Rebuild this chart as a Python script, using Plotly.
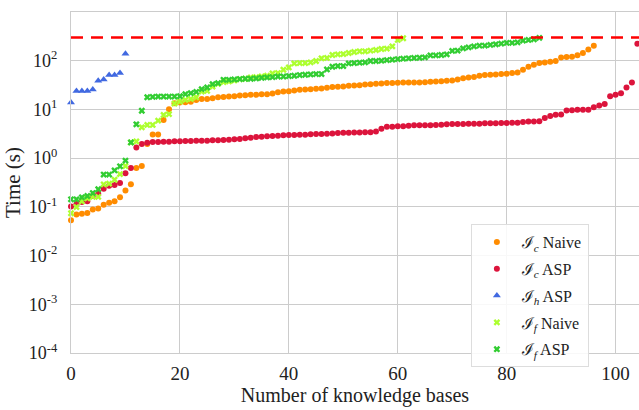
import plotly.graph_objects as go

ic_naive = [0.053, 0.070, 0.072, 0.075, 0.088, 0.092, 0.111, 0.122, 0.130, 0.157,
            0.217, 0.29, 0.63, 0.69, 1.94, 3.05, 3.05, 6.1, 10.1, 13.4,
            13.8, 14.1, 14.3, 15.7, 16.4, 16.4, 17.0, 17.8, 18.1, 18.4,
            18.7, 19.3, 19.6, 19.9, 19.9, 20.6, 20.6, 21.2, 22.6, 23.3,
            23.7, 24.4, 25.2, 25.6, 26.1, 26.5, 26.9, 27.8, 28.7, 29.1,
            29.5, 30.5, 31.0, 31.5, 32.4, 33.0, 33.5, 34.0, 34.7, 34.7,
            35.2, 35.7, 35.7, 35.7, 35.7, 36.3, 36.9, 37.5, 38.1, 38.7,
            39.3, 41.2, 43.9, 45.3, 46.1, 49.1, 50.8, 51.5, 52.3, 53.2,
            54.0, 55.8, 57.4, 65.2, 75.2, 82.7, 89.6, 92.3, 95.4, 98.6,
            117, 119, 121, 129, 144, 169, 204]

ic_asp = [0.102, 0.115, 0.126, 0.131, 0.167, 0.186, 0.234, 0.27, 0.28, 0.31,
          0.49, 0.63, 1.66, 1.94, 2.06, 2.14, 2.14, 2.18, 2.18, 2.22,
          2.22, 2.25, 2.25, 2.27, 2.27, 2.27, 2.32, 2.32, 2.35, 2.39,
          2.43, 2.47, 2.55, 2.63, 2.72, 2.76, 2.80, 2.85, 2.89, 2.94,
          2.98, 2.98, 3.03, 3.03, 3.08, 3.13, 3.13, 3.17, 3.22, 3.27,
          3.32, 3.32, 3.37, 3.37, 3.42, 3.42, 3.54, 4.01, 4.42, 4.42,
          4.50, 4.50, 4.64, 4.72, 4.72, 4.72, 4.72, 4.80, 4.87, 4.95,
          5.03, 5.03, 5.03, 5.10, 5.10, 5.10, 5.19, 5.19, 5.19, 5.27,
          5.27, 5.35, 5.35, 5.53, 5.62, 5.62, 5.72, 6.7, 7.3, 7.8,
          7.9, 9.5, 9.6, 9.8, 9.8, 9.8, 11.1, 12.0, 13.0, 18.7,
          19.9, 21.6, 28.2, 35.7, 224]

ih_asp = [13.8, 24, 24, 24, 25.8, 38.7, 41, 51, 51, 56, 139]

if_naive = [0.074, 0.099, 0.13, 0.15, 0.16, 0.16, 0.29, 0.30, 0.36, 0.47,
            0.69, 2.1, 2.2, 4.3, 4.8, 4.8, 5.9, 7.7, 8.0, 13.2,
            14.5, 15.7, 16.4, 17.8, 23.3, 24.0, 29.5, 33.5, 36.3, 37.5,
            39.3, 42.0, 42.6, 45.3, 46.1, 47.4, 49.1, 54.6, 55.8, 65.2,
            72.8, 88, 89.6, 89.6, 92.3, 98.6, 112, 114, 131, 135,
            137, 144, 151, 156, 156, 161, 166, 174, 177, 197,
            267, 289]

if_asp = [0.143, 0.143, 0.157, 0.167, 0.192, 0.23, 0.46, 0.46, 0.56, 0.68,
          0.89, 2.1, 4.95, 9.4, 17.8, 18.1, 18.4, 18.4, 18.4, 18.4,
          18.7, 20.6, 21.6, 22.9, 26.1, 28.2, 33.0, 34.7, 40.6, 40.6,
          41.2, 42.0, 42.6, 42.6, 43.2, 44.6, 45.3, 46.1, 47.4, 47.4,
          48.4, 49.1, 50.8, 51.5, 52.3, 53.2, 53.2, 66.2, 75.2, 77.7,
          77.7, 88, 89.6, 91.1, 92.3, 98.6, 98.6, 100, 103, 105,
          108, 110, 112, 114, 115, 117, 129, 129, 131, 135,
          159, 161, 179, 188, 197, 204, 204, 211, 217, 224,
          232, 232, 238, 258, 267, 275, 294]

timeout = 300
y_tick_vals = [1e-4, 1e-3, 1e-2, 1e-1, 1, 10, 100, 1000]
y_tick_text = ["10<sup>-4</sup>", "10<sup>-3</sup>", "10<sup>-2</sup>", "10<sup>-1</sup>",
               "10<sup>0</sup>", "10<sup>1</sup>", "10<sup>2</sup>", "10<sup>3</sup>"]
x_tick_vals = [0, 20, 40, 60, 80, 100]

series = [
    ("ℐ<sub><i>c</i></sub> Naive", ic_naive, "#ff8c00", "circle", 6),
    ("ℐ<sub><i>c</i></sub> ASP", ic_asp, "#dc143c", "circle", 6),
    ("ℐ<sub><i>h</i></sub> ASP", ih_asp, "#4169e1", "triangle-up", 7),
    ("ℐ<sub><i>f</i></sub> Naive", if_naive, "#adff2f", "x", 6),
    ("ℐ<sub><i>f</i></sub> ASP", if_asp, "#32cd32", "x", 6),
]

FONT = "Liberation Serif, Times New Roman, DejaVu Serif, serif"

fig = go.Figure()
for i, (name, vals, color, sym, sz) in enumerate(series):
    fig.add_trace(go.Scatter(
        x=list(range(len(vals))), y=vals, mode="markers", name=name,
        legendgroup=f"g{i}", cliponaxis=False,
        marker=dict(color=color, symbol=sym, size=sz, line=dict(width=0)),
    ))

fig.add_shape(type="line", xref="paper", x0=0, x1=1, yref="y", y0=timeout, y1=timeout,
              line=dict(color="#ff0000", width=2.5, dash="12px,8px"))

fig.update_layout(
    width=639, height=410,
    margin=dict(l=71, r=0, t=12, b=57, autoexpand=False),
    plot_bgcolor="white", paper_bgcolor="white",
    font=dict(family=FONT, size=18, color="#222222"),
    showlegend=True,
    legend=dict(x=0.704, y=0.378, xanchor="left", yanchor="top",
                bgcolor="rgba(255,255,255,0.85)", bordercolor="#dddddd", borderwidth=1,
                font=dict(family=FONT, size=16, color="#222222"),
                tracegroupgap=3, itemwidth=40),
    xaxis=dict(range=[0, 104.3], tickvals=x_tick_vals, showgrid=True, automargin=False,
               gridcolor="#cccccc", gridwidth=1, zeroline=False,
               showline=True, linecolor="#cccccc", linewidth=1.2, mirror=True,
               ticks="", ticklabelstandoff=3, tickfont=dict(size=19),
               title=dict(text="Number of knowledge bases", font=dict(size=20), standoff=0)),
    yaxis=dict(type="log", range=[-4, 3], tickvals=y_tick_vals, ticktext=y_tick_text,
               showgrid=True, gridcolor="#cccccc", gridwidth=1, zeroline=False, automargin=False,
               showline=True, linecolor="#cccccc", linewidth=1.2, mirror=True,
               ticks="", ticklabelstandoff=9, tickfont=dict(size=18),
               title=dict(text="Time (s)", font=dict(size=21), standoff=2)),
)

fig.write_html("out.html", config={"displayModeBar": False},
               post_script="document.body.style.margin='0';document.body.style.overflow='hidden';")
